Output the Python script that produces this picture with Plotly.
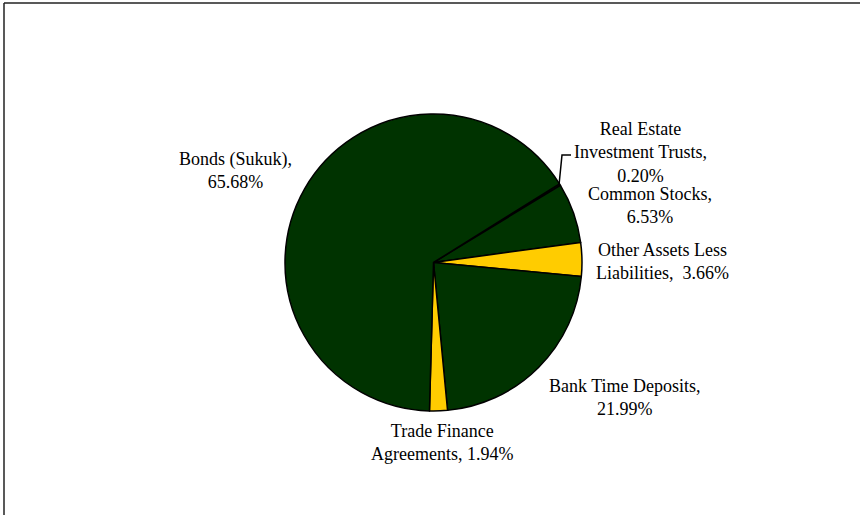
import plotly.graph_objects as go

W, H = 860, 515

categories = ["Real Estate Investment Trusts", "Common Stocks", "Other Assets Less Liabilities",
              "Bank Time Deposits", "Trade Finance Agreements", "Bonds (Sukuk)"]
values = [0.20, 6.53, 3.66, 21.99, 1.94, 65.68]
colors = ["#003300", "#003300", "#FFCC00", "#003300", "#FFCC00", "#003300"]

label_texts = [
    "Real Estate<br>Investment Trusts,<br>0.20%",
    "Common Stocks,<br>6.53%",
    "Other Assets Less<br>Liabilities,  3.66%",
    "Bank Time Deposits,<br>21.99%",
    "Trade Finance<br>Agreements, 1.94%",
    "Bonds (Sukuk),<br>65.68%",
]
# label centre positions in pixels
label_pos = [(640, 152), (650, 205), (662, 261), (625, 397), (442, 442), (235, 171)]

def px(x):
    return x / W

def py(y):
    return 1 - y / H

fig = go.Figure(go.Pie(
    labels=categories, values=values, sort=False, direction="clockwise", rotation=58,
    marker=dict(colors=colors, line=dict(color="black", width=1.5)),
    textinfo="none", hoverinfo="label+percent",
    domain=dict(x=[px(285), px(582)], y=[py(411), py(114)]),
    showlegend=False,
))

annots = []
for t, (x, y) in zip(label_texts, label_pos):
    annots.append(dict(text=t, x=px(x), y=py(y), xref="paper", yref="paper",
                       xanchor="center", yanchor="middle", showarrow=False, align="center",
                       font=dict(family="Liberation Serif", size=18, color="black")))

shapes = [
    dict(type="line", xref="paper", yref="paper", x0=px(4), x1=px(4), y0=0, y1=py(3),
         line=dict(color="#222", width=1.5)),
    dict(type="line", xref="paper", yref="paper", x0=px(4), x1=1, y0=py(3), y1=py(3),
         line=dict(color="#222", width=1.5)),
    dict(type="path", xref="paper", yref="paper",
         path=f"M {px(559)} {py(185)} L {px(562)} {py(155)} L {px(571)} {py(155)}",
         line=dict(color="black", width=1.5)),
]

fig.update_layout(width=W, height=H, margin=dict(l=0, r=0, t=0, b=0),
                  paper_bgcolor="white", plot_bgcolor="white",
                  annotations=annots, shapes=shapes)

fig.write_html("out.html", config={"displayModeBar": False},
               post_script="document.body.style.margin='0';")
